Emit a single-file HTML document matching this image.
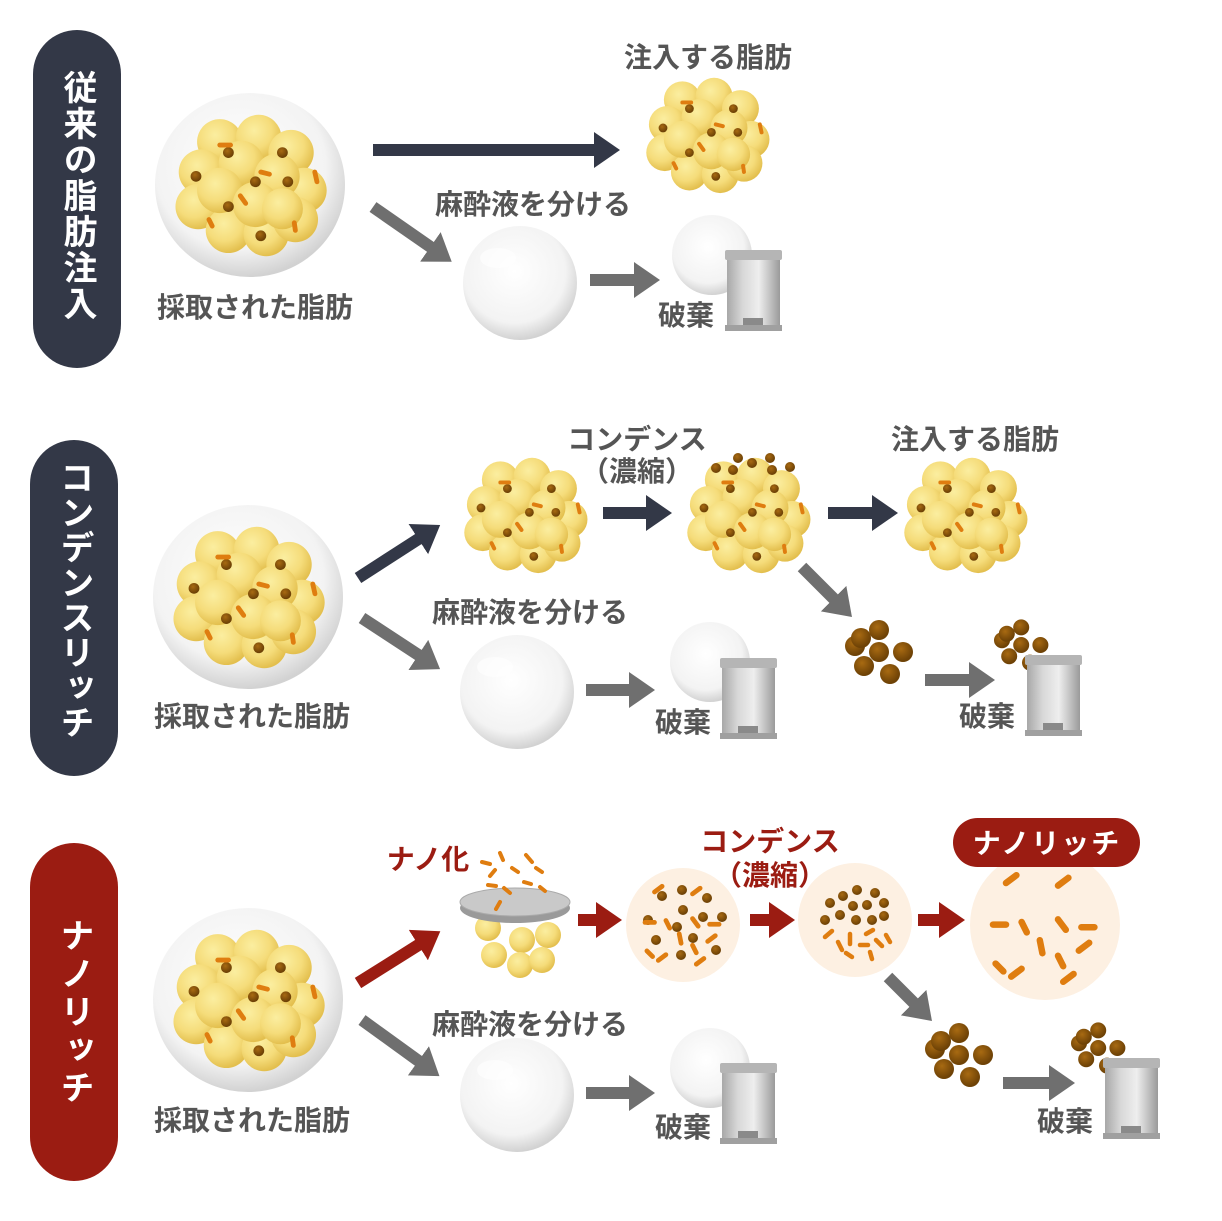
<!DOCTYPE html>
<html><head><meta charset="utf-8"><style>
html,body{margin:0;padding:0;background:#fff}
svg{display:block}
text{font-family:"Liberation Sans","Noto Sans CJK JP",sans-serif;font-weight:bold}
</style></head><body>
<svg width="1222" height="1221" viewBox="0 0 1222 1221" xmlns="http://www.w3.org/2000/svg">
<defs>
<radialGradient id="ball" cx="0.4" cy="0.35" r="0.65"><stop offset="0" stop-color="#fbeea0"/><stop offset="0.6" stop-color="#f5dc7a"/><stop offset="1" stop-color="#e3bf4e"/></radialGradient>
<radialGradient id="brown" cx="0.4" cy="0.35" r="0.6"><stop offset="0" stop-color="#a86a12"/><stop offset="1" stop-color="#6e4206"/></radialGradient>
<radialGradient id="glass" cx="0.45" cy="0.4" r="0.6"><stop offset="0" stop-color="#ffffff"/><stop offset="0.75" stop-color="#f3f3f3"/><stop offset="1" stop-color="#d2d2d2"/></radialGradient>
<linearGradient id="can" x1="0" x2="1"><stop offset="0" stop-color="#a8a8a8"/><stop offset="0.3" stop-color="#d8d8d8"/><stop offset="0.6" stop-color="#eeeeee"/><stop offset="1" stop-color="#9a9a9a"/></linearGradient>
<marker id="mD" markerUnits="userSpaceOnUse" markerWidth="30" markerHeight="40" refX="2" refY="18" orient="auto"><path d="M0,0 L26,18 L0,36Z" fill="#333847"/></marker>
<marker id="mG" markerUnits="userSpaceOnUse" markerWidth="30" markerHeight="40" refX="2" refY="18" orient="auto"><path d="M0,0 L26,18 L0,36Z" fill="#6f6f6f"/></marker>
<marker id="mR" markerUnits="userSpaceOnUse" markerWidth="30" markerHeight="40" refX="2" refY="18" orient="auto"><path d="M0,0 L26,18 L0,36Z" fill="#9b1c12"/></marker>
<g id="cluster0">
<circle cx="-28" cy="-40" r="21" fill="url(#ball)"/><circle cx="8" cy="-44" r="21" fill="url(#ball)"/><circle cx="38" cy="-30" r="21" fill="url(#ball)"/>
<circle cx="-45" cy="-12" r="21" fill="url(#ball)"/><circle cx="50" cy="5" r="21" fill="url(#ball)"/>
<circle cx="-48" cy="20" r="21" fill="url(#ball)"/><circle cx="-20" cy="42" r="21" fill="url(#ball)"/><circle cx="15" cy="45" r="21" fill="url(#ball)"/><circle cx="42" cy="32" r="21" fill="url(#ball)"/>
<circle cx="-8" cy="-20" r="21" fill="url(#ball)"/><circle cx="25" cy="-8" r="21" fill="url(#ball)"/><circle cx="-28" cy="5" r="21" fill="url(#ball)"/>
<circle cx="5" cy="18" r="21" fill="url(#ball)"/><circle cx="30" cy="22" r="19" fill="url(#ball)"/>
<circle cx="-20" cy="-30" r="5" fill="url(#brown)"/><circle cx="30" cy="-30" r="5" fill="url(#brown)"/><circle cx="-50" cy="-8" r="5" fill="url(#brown)"/>
<circle cx="5" cy="-3" r="5" fill="url(#brown)"/><circle cx="35" cy="-3" r="5" fill="url(#brown)"/><circle cx="-20" cy="20" r="5" fill="url(#brown)"/><circle cx="10" cy="47" r="5" fill="url(#brown)"/>
<g stroke="#df7d10" stroke-width="4.5" stroke-linecap="round"><line x1="-28" y1="-37" x2="-18" y2="-37"/><line x1="60" y1="-12" x2="62" y2="-3"/><line x1="-9" y1="10" x2="-4" y2="17"/><line x1="-38" y1="32" x2="-35" y2="38"/><line x1="41" y1="35" x2="42" y2="42"/><line x1="10" y1="-12" x2="18" y2="-10"/></g>
</g>
<g id="cluster"><use href="#cluster0" transform="scale(0.88)"/></g>
<g id="bigbubble">
<ellipse cx="0" cy="0" rx="95" ry="92" fill="url(#glass)"/>
<use href="#cluster0" transform="scale(1.08)"/>
</g>
<g id="drop"><circle cx="0" cy="0" r="57" fill="url(#glass)"/><ellipse cx="-22" cy="-25" rx="18" ry="10" fill="#fff" opacity="0.6"/></g>
<g id="trash">
<rect x="0" y="5" width="53" height="75" rx="3" fill="url(#can)"/>
<rect x="-2" y="0" width="57" height="10" rx="2" fill="#b5b5b5"/>
<rect x="-2" y="75" width="57" height="6" fill="#a0a0a0"/>
<rect x="16" y="68" width="20" height="7" fill="#8a8a8a"/>
</g>
<g id="dots">
<circle cx="-20" cy="-6" r="10" fill="url(#brown)"/><circle cx="-14" cy="-14" r="10" fill="url(#brown)"/><circle cx="4" cy="-22" r="10" fill="url(#brown)"/><circle cx="4" cy="0" r="10" fill="url(#brown)"/><circle cx="28" cy="0" r="10" fill="url(#brown)"/><circle cx="-11" cy="14" r="10" fill="url(#brown)"/><circle cx="15" cy="22" r="10" fill="url(#brown)"/>
</g>
<g id="rods" stroke="#df7d10" stroke-width="5" stroke-linecap="round">
<line x1="-30" y1="-40" x2="-22" y2="-46"/><line x1="10" y1="-38" x2="18" y2="-44"/><line x1="-40" y1="-8" x2="-30" y2="-8"/><line x1="-18" y1="-10" x2="-14" y2="-2"/><line x1="10" y1="-12" x2="16" y2="-4"/><line x1="28" y1="-6" x2="38" y2="-6"/><line x1="-4" y1="4" x2="-2" y2="14"/><line x1="26" y1="12" x2="34" y2="6"/><line x1="-38" y1="22" x2="-32" y2="28"/><line x1="-26" y1="32" x2="-18" y2="26"/><line x1="10" y1="16" x2="14" y2="24"/><line x1="14" y1="36" x2="22" y2="30"/>
</g>
</defs>

<rect x="33" y="30" width="88" height="338" rx="44" fill="#333847"/>
<text x="77" y="70" fill="#fff" font-size="34" style="writing-mode:vertical-rl;letter-spacing:2px">従来の脂肪注入</text>
<rect x="30" y="440" width="88" height="336" rx="44" fill="#333847"/>
<text x="74" y="460" fill="#fff" font-size="34" style="writing-mode:vertical-rl;letter-spacing:1px">コンデンスリッチ</text>
<rect x="30" y="843" width="88" height="338" rx="44" fill="#9b1c12"/>
<text x="74" y="918" fill="#fff" font-size="34" style="writing-mode:vertical-rl;letter-spacing:4px">ナノリッチ</text>

<g font-size="28" fill="#555" text-anchor="middle">
<use href="#bigbubble" transform="translate(250,185)"/>
<text x="255" y="317">採取された脂肪</text>
<line x1="373" y1="150" x2="596" y2="150" stroke="#333847" stroke-width="12" marker-end="url(#mD)"/>
<use href="#cluster" transform="translate(707,135)"/>
<text x="708" y="67">注入する脂肪</text>
<line x1="373" y1="207" x2="432" y2="248" stroke="#6f6f6f" stroke-width="12" marker-end="url(#mG)"/>
<text x="533" y="214">麻酔液を分ける</text>
<use href="#drop" transform="translate(520,283)"/>
<line x1="590" y1="280" x2="636" y2="280" stroke="#6f6f6f" stroke-width="12" marker-end="url(#mG)"/>
<circle cx="712" cy="255" r="40" fill="url(#glass)"/>
<use href="#trash" transform="translate(727,250)"/>
<text x="686" y="325">破棄</text>

<use href="#bigbubble" transform="translate(248,597)"/>
<text x="252" y="726">採取された脂肪</text>
<line x1="358" y1="578" x2="420" y2="538" stroke="#333847" stroke-width="12" marker-end="url(#mD)"/>
<use href="#cluster" transform="translate(525,515)"/>
<text x="637" y="449">コンデンス</text>
<text x="637" y="481">（濃縮）</text>
<line x1="603" y1="513" x2="648" y2="513" stroke="#333847" stroke-width="12" marker-end="url(#mD)"/>
<use href="#cluster" transform="translate(748,515)"/>
<g fill="url(#brown)"><circle cx="716" cy="468" r="5"/><circle cx="733" cy="470" r="5"/><circle cx="752" cy="463" r="5"/><circle cx="772" cy="470" r="5"/><circle cx="790" cy="467" r="5"/><circle cx="738" cy="458" r="5"/><circle cx="770" cy="458" r="5"/></g>
<line x1="828" y1="513" x2="874" y2="513" stroke="#333847" stroke-width="12" marker-end="url(#mD)"/>
<use href="#cluster" transform="translate(965,515)"/>
<text x="975" y="449">注入する脂肪</text>
<line x1="362" y1="618" x2="420" y2="656" stroke="#6f6f6f" stroke-width="12" marker-end="url(#mG)"/>
<text x="530" y="622">麻酔液を分ける</text>
<use href="#drop" transform="translate(517,692)"/>
<line x1="586" y1="690" x2="631" y2="690" stroke="#6f6f6f" stroke-width="12" marker-end="url(#mG)"/>
<circle cx="710" cy="662" r="40" fill="url(#glass)"/>
<use href="#trash" transform="translate(722,658)"/>
<text x="683" y="732">破棄</text>
<line x1="802" y1="567" x2="835" y2="600" stroke="#6f6f6f" stroke-width="12" marker-end="url(#mG)"/>
<use href="#dots" transform="translate(875,652)"/>
<line x1="925" y1="680" x2="971" y2="680" stroke="#6f6f6f" stroke-width="12" marker-end="url(#mG)"/>
<use href="#dots" transform="translate(1018,645) scale(0.8)"/>
<use href="#trash" transform="translate(1027,655)"/>
<text x="987" y="726">破棄</text>

<use href="#bigbubble" transform="translate(248,1000)"/>
<text x="252" y="1130">採取された脂肪</text>
<line x1="358" y1="983" x2="420" y2="944" stroke="#9b1c12" stroke-width="12" marker-end="url(#mR)"/>
<text x="428" y="869" fill="#9b1c12">ナノ化</text>
<g fill="url(#ball)"><circle cx="488" cy="928" r="13"/><circle cx="522" cy="940" r="13"/><circle cx="548" cy="935" r="13"/><circle cx="494" cy="955" r="13"/><circle cx="520" cy="965" r="13"/><circle cx="542" cy="960" r="13"/></g>
<ellipse cx="515" cy="908" rx="55" ry="15" fill="#9a9a9a"/>
<ellipse cx="515" cy="902" rx="55" ry="14" fill="#c9c9c9" stroke="#aaa"/>
<g stroke="#df7d10" stroke-width="4" stroke-linecap="round"><line x1="482" y1="862" x2="490" y2="864"/><line x1="500" y1="853" x2="503" y2="860"/><line x1="526" y1="855" x2="532" y2="862"/><line x1="490" y1="876" x2="495" y2="870"/><line x1="512" y1="868" x2="518" y2="872"/><line x1="536" y1="868" x2="542" y2="872"/><line x1="488" y1="885" x2="496" y2="886"/><line x1="504" y1="888" x2="510" y2="893"/><line x1="524" y1="882" x2="531" y2="884"/><line x1="540" y1="887" x2="545" y2="891"/><line x1="500" y1="902" x2="496" y2="909"/></g>
<line x1="578" y1="920" x2="598" y2="920" stroke="#9b1c12" stroke-width="12" marker-end="url(#mR)"/>
<circle cx="683" cy="925" r="57" fill="#fdf0e2"/>
<g fill="url(#brown)"><circle cx="662" cy="896" r="5"/><circle cx="682" cy="890" r="5"/><circle cx="707" cy="898" r="5"/><circle cx="683" cy="910" r="5"/><circle cx="648" cy="920" r="5"/><circle cx="677" cy="927" r="5"/><circle cx="703" cy="917" r="5"/><circle cx="722" cy="917" r="5"/><circle cx="656" cy="940" r="5"/><circle cx="693" cy="938" r="5"/><circle cx="681" cy="955" r="5"/><circle cx="716" cy="950" r="5"/></g>
<use href="#rods" transform="translate(683,930) scale(0.95)"/>
<line x1="750" y1="920" x2="771" y2="920" stroke="#9b1c12" stroke-width="12" marker-end="url(#mR)"/>
<text x="770" y="851" fill="#9b1c12">コンデンス</text>
<text x="770" y="885" fill="#9b1c12">（濃縮）</text>
<circle cx="855" cy="920" r="57" fill="#fdf0e2"/>
<g fill="url(#brown)"><circle cx="830" cy="903" r="5"/><circle cx="843" cy="896" r="5"/><circle cx="857" cy="890" r="5"/><circle cx="875" cy="893" r="5"/><circle cx="853" cy="906" r="5"/><circle cx="867" cy="905" r="5"/><circle cx="884" cy="903" r="5"/><circle cx="825" cy="920" r="5"/><circle cx="840" cy="915" r="5"/><circle cx="856" cy="920" r="5"/><circle cx="872" cy="920" r="5"/><circle cx="884" cy="916" r="5"/></g>
<g stroke="#df7d10" stroke-width="4.5" stroke-linecap="round"><line x1="825" y1="937" x2="832" y2="931"/><line x1="838" y1="942" x2="842" y2="950"/><line x1="850" y1="934" x2="850" y2="944"/><line x1="860" y1="945" x2="868" y2="945"/><line x1="866" y1="934" x2="873" y2="930"/><line x1="876" y1="940" x2="882" y2="946"/><line x1="886" y1="935" x2="890" y2="942"/><line x1="846" y1="953" x2="852" y2="957"/><line x1="870" y1="952" x2="872" y2="959"/></g>
<line x1="918" y1="920" x2="941" y2="920" stroke="#9b1c12" stroke-width="12" marker-end="url(#mR)"/>
<circle cx="1045" cy="925" r="75" fill="#fdf0e2"/>
<use href="#rods" transform="translate(1045,935) scale(1.3)"/>
<rect x="953" y="818" width="187" height="49" rx="24.5" fill="#9b1c12"/>
<text x="1047" y="853" fill="#fff" font-size="28" style="letter-spacing:2px">ナノリッチ</text>
<line x1="888" y1="977" x2="915" y2="1004" stroke="#6f6f6f" stroke-width="12" marker-end="url(#mG)"/>
<use href="#dots" transform="translate(955,1055)"/>
<line x1="1003" y1="1083" x2="1051" y2="1083" stroke="#6f6f6f" stroke-width="12" marker-end="url(#mG)"/>
<use href="#dots" transform="translate(1095,1048) scale(0.8)"/>
<use href="#trash" transform="translate(1105,1058)"/>
<text x="1065" y="1131">破棄</text>
<line x1="362" y1="1020" x2="420" y2="1062" stroke="#6f6f6f" stroke-width="12" marker-end="url(#mG)"/>
<text x="530" y="1034">麻酔液を分ける</text>
<use href="#drop" transform="translate(517,1095)"/>
<line x1="586" y1="1093" x2="631" y2="1093" stroke="#6f6f6f" stroke-width="12" marker-end="url(#mG)"/>
<circle cx="710" cy="1068" r="40" fill="url(#glass)"/>
<use href="#trash" transform="translate(722,1063)"/>
<text x="683" y="1137">破棄</text>
</g>
</svg>
</body></html>
